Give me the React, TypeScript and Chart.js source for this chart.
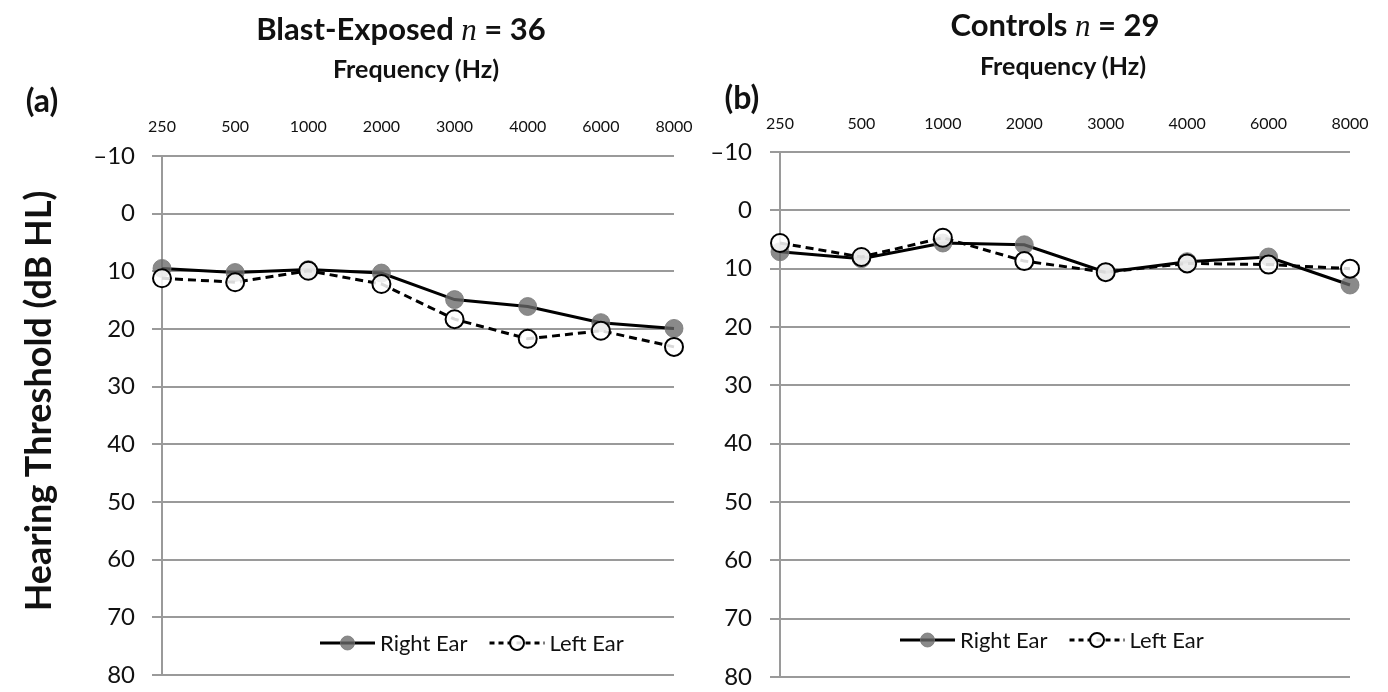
import React, { useEffect, useRef } from "react";
import { Chart, registerables } from "chart.js";

Chart.register(...registerables);

// ---------- data ----------
const frequencies = ["250", "500", "1000", "2000", "3000", "4000", "6000", "8000"];
const yTickValues = [-10, 0, 10, 20, 30, 40, 50, 60, 70, 80];
const seriesLabels = ["Right Ear", "Left Ear"];

const blastRightEar = [9.5, 10.2, 9.7, 10.3, 14.9, 16.1, 18.9, 19.9];
const blastLeftEar = [11.2, 11.9, 9.9, 12.2, 18.3, 21.7, 20.3, 23.1];

const controlRightEar = [7.1, 8.3, 5.6, 5.9, 10.6, 8.8, 8.0, 12.8];
const controlLeftEar = [5.6, 8.0, 4.7, 8.7, 10.6, 9.1, 9.3, 10.0];

// ---------- styles ----------
const FONT = "Lato, 'Open Sans', sans-serif";
const GRID = "#9a9a9a";
const FILLED = "rgba(105,105,105,0.78)";

const insideLegend = {
  id: "insideLegend",
  afterDatasetsDraw(chart: any, _args: any, opts: any) {
    const ctx = chart.ctx as CanvasRenderingContext2D;
    const area = chart.chartArea;
    let x = area.left + opts.offsetX;
    const y = area.bottom - opts.offsetY;
    ctx.save();
    ctx.font = `${opts.fontSize}px ${FONT}`;
    ctx.textBaseline = "middle";
    ctx.textAlign = "left";
    chart.data.datasets.forEach((ds: any) => {
      ctx.beginPath();
      ctx.setLineDash(ds.borderDash ? [5, 4] : []);
      ctx.lineWidth = ds.borderWidth;
      ctx.strokeStyle = ds.borderColor;
      ctx.moveTo(x, y);
      ctx.lineTo(x + opts.lineLength, y);
      ctx.stroke();
      ctx.setLineDash([]);
      ctx.beginPath();
      ctx.arc(x + opts.lineLength / 2, y, opts.markerRadius, 0, Math.PI * 2);
      ctx.fillStyle = ds.pointBackgroundColor;
      ctx.fill();
      ctx.lineWidth = ds.pointBorderWidth;
      ctx.strokeStyle = ds.pointBorderColor;
      ctx.stroke();
      x += opts.lineLength + opts.textGap;
      ctx.fillStyle = "#111";
      ctx.fillText(ds.label, x, y + 1);
      x += ctx.measureText(ds.label).width + opts.itemGap;
    });
    ctx.restore();
  },
};

type Layout = {
  yAxisWidth: number;
  xAxisHeight: number;
  padTop: number;
  padRight: number;
  padBottom: number;
  xTickPadding: number;
  yTickPadding: number;
  legendOffsetX: number;
  legendOffsetY: number;
};

function buildConfig(right: number[], left: number[], L: Layout): any {
  return {
    type: "line",
    data: {
      labels: frequencies,
      datasets: [
        {
          label: seriesLabels[0],
          data: right,
          borderColor: "#000",
          borderWidth: 3,
          pointRadius: 9,
          pointBackgroundColor: FILLED,
          pointBorderColor: "rgba(120,120,120,0.8)",
          pointBorderWidth: 1,
          tension: 0,
          clip: false,
          order: 2,
        },
        {
          label: seriesLabels[1],
          data: left,
          borderColor: "#000",
          borderWidth: 3,
          borderDash: [8, 5],
          pointRadius: 9,
          pointBackgroundColor: "rgba(255,255,255,0.85)",
          pointBorderColor: "#000",
          pointBorderWidth: 2,
          tension: 0,
          clip: false,
          order: 1,
        },
      ],
    },
    options: {
      responsive: false,
      maintainAspectRatio: false,
      animation: false,
      layout: {
        autoPadding: false,
        padding: { left: 0, right: L.padRight, top: L.padTop, bottom: L.padBottom },
      },
      plugins: {
        legend: { display: false },
        tooltip: { enabled: false },
        insideLegend: {
          offsetX: L.legendOffsetX,
          offsetY: L.legendOffsetY,
          fontSize: 22,
          lineLength: 55,
          markerRadius: 7,
          textGap: 5,
          itemGap: 22,
        },
      },
      scales: {
        x: {
          type: "category",
          position: "top",
          offset: false,
          grid: { display: false, drawTicks: false },
          border: { display: false },
          ticks: {
            color: "#111",
            font: { family: FONT, size: 16 },
            padding: L.xTickPadding,
            maxRotation: 0,
            autoSkip: false,
          },
          afterFit: (s: any) => {
            s.height = L.xAxisHeight;
            s.paddingLeft = 0;
            s.paddingRight = 0;
          },
        },
        y: {
          reverse: true,
          min: yTickValues[0],
          max: yTickValues[yTickValues.length - 1],
          afterBuildTicks: (s: any) => {
            s.ticks = yTickValues.map((v) => ({ value: v }));
          },
          grid: { color: GRID, lineWidth: 2, tickLength: 10, drawTicks: true },
          border: { display: true, color: GRID, width: 2 },
          ticks: {
            color: "#111",
            font: { family: FONT, size: 24 },
            padding: L.yTickPadding,
            callback: (v: any) => (Number(v) < 0 ? `\u2013${Math.abs(Number(v))}` : `${v}`),
          },
          afterFit: (s: any) => {
            s.width = L.yAxisWidth;
            s.paddingTop = 0;
            s.paddingBottom = 0;
          },
        },
      },
    },
    plugins: [insideLegend],
  };
}

const leftLayout: Layout = {
  yAxisWidth: 162,
  xAxisHeight: 40,
  padTop: 116,
  padRight: 26,
  padBottom: 17,
  xTickPadding: 20,
  yTickPadding: 17,
  legendOffsetX: 158,
  legendOffsetY: 32,
};

const rightLayout: Layout = {
  yAxisWidth: 80,
  xAxisHeight: 40,
  padTop: 112,
  padRight: 38,
  padBottom: 15,
  xTickPadding: 19,
  yTickPadding: 18,
  legendOffsetX: 120,
  legendOffsetY: 37,
};

const textBase: React.CSSProperties = {
  position: "absolute",
  fontFamily: FONT,
  fontWeight: 700,
  color: "#111",
  whiteSpace: "nowrap",
  lineHeight: 1,
  transform: "translate(-50%, -50%)",
};

const italicN: React.CSSProperties = {
  fontFamily: "'Liberation Serif', 'DejaVu Serif', serif",
  fontStyle: "italic",
  fontWeight: 400,
};

export default function App() {
  const leftRef = useRef<HTMLCanvasElement>(null);
  const rightRef = useRef<HTMLCanvasElement>(null);

  useEffect(() => {
    const a = new Chart(leftRef.current as HTMLCanvasElement, buildConfig(blastRightEar, blastLeftEar, leftLayout));
    const b = new Chart(rightRef.current as HTMLCanvasElement, buildConfig(controlRightEar, controlLeftEar, rightLayout));
    return () => {
      a.destroy();
      b.destroy();
    };
  }, []);

  return (
    <div style={{ position: "absolute", left: 0, top: 0, width: 1388, height: 692, background: "#fff", overflow: "hidden" }}>
      <canvas ref={leftRef} width={700} height={692} style={{ position: "absolute", left: 0, top: 0 }} />
      <canvas ref={rightRef} width={688} height={692} style={{ position: "absolute", left: 700, top: 0 }} />

      <div style={{ ...textBase, left: 401, top: 29, fontSize: 31 }}>
        Blast-Exposed <span style={italicN}>n</span> = 36
      </div>
      <div style={{ ...textBase, left: 416, top: 68, fontSize: 25 }}>Frequency (Hz)</div>
      <div style={{ ...textBase, left: 42, top: 100, fontSize: 32 }}>(a)</div>

      <div style={{ ...textBase, left: 1055, top: 25, fontSize: 31 }}>
        Controls <span style={italicN}>n</span> = 29
      </div>
      <div style={{ ...textBase, left: 1063, top: 65, fontSize: 25 }}>Frequency (Hz)</div>
      <div style={{ ...textBase, left: 742, top: 97, fontSize: 32 }}>(b)</div>

      <div style={{ ...textBase, left: 37, top: 401, fontSize: 36, transform: "translate(-50%, -50%) rotate(-90deg)" }}>
        Hearing Threshold (dB HL)
      </div>
    </div>
  );
}
